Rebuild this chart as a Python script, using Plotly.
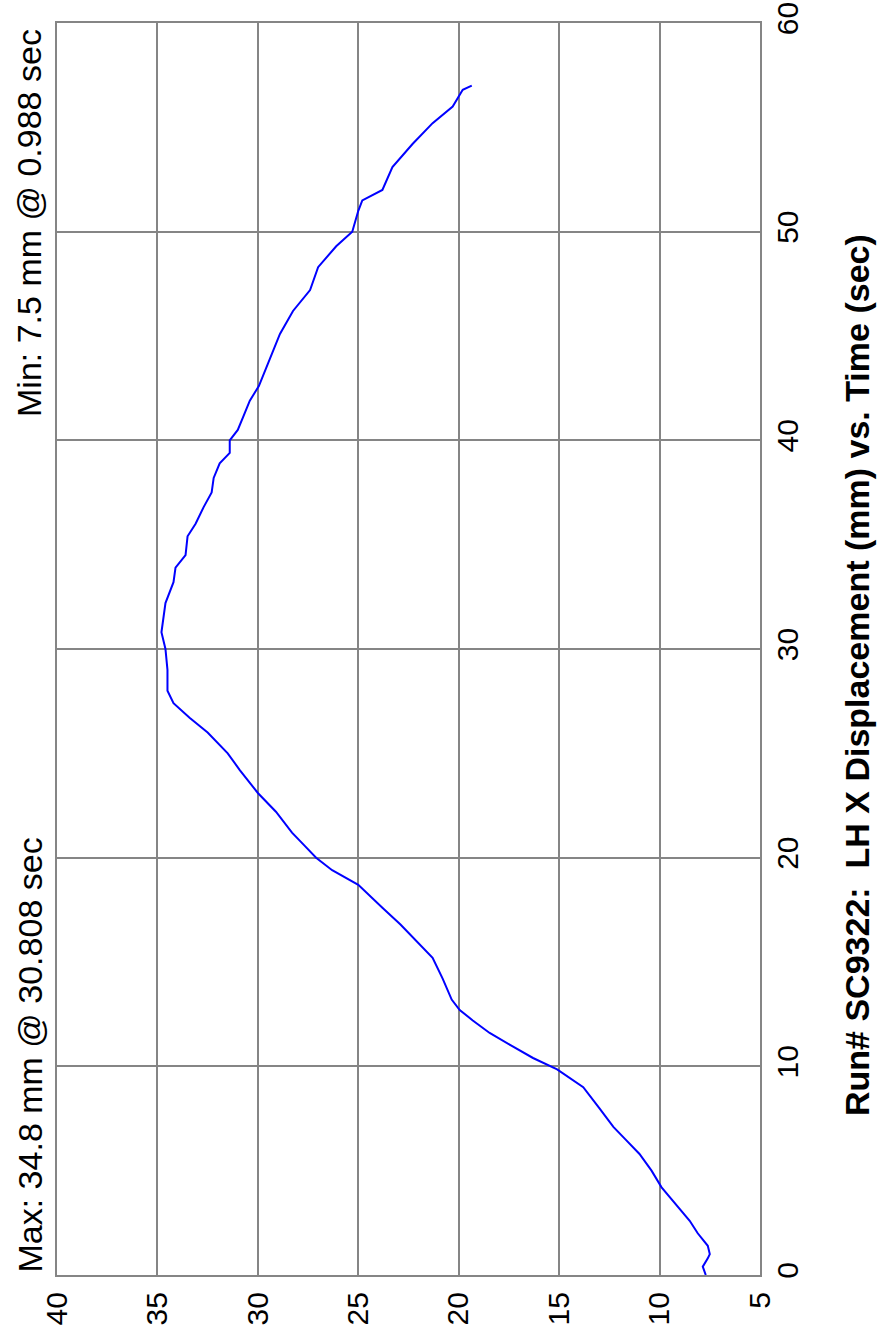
import plotly.graph_objects as go

# Time (sec) and LH X displacement (mm)
time_sec = [0, 0.4, 0.8, 1.0, 1.4, 2.0, 2.6, 3.4, 4.2, 5.0, 5.8, 6.5, 7.1, 8.0, 9.0,
            9.85, 10.4, 11.0, 11.6, 12.2, 12.7, 13.2, 14.2, 15.2, 16.0, 16.8, 17.6,
            18.7, 19.4, 20.0, 20.6, 21.2, 22.2, 23.1, 24.2, 25.0, 26.0, 26.7, 27.4,
            28.0, 29.0, 30.0, 30.8, 31.5, 32.2, 33.2, 33.9, 34.5, 35.4, 36.0, 36.8,
            37.5, 38.2, 38.9, 39.4, 40.0, 40.5, 41.2, 41.9, 42.6, 43.9, 45.1, 46.2,
            47.2, 48.3, 49.3, 50.0, 51.0, 51.5, 52.0, 53.1, 54.2, 55.2, 56.0, 56.8, 57.0]
disp_mm = [7.7, 7.85, 7.6, 7.5, 7.6, 8.1, 8.5, 9.2, 9.9, 10.4, 11.0, 11.7, 12.3, 13.0, 13.8,
           15.1, 16.3, 17.4, 18.46, 19.3, 19.95, 20.35, 20.8, 21.3, 22.1, 22.9, 23.8,
           25.0, 26.3, 27.1, 27.7, 28.3, 29.1, 30.0, 30.9, 31.5, 32.5, 33.4, 34.2,
           34.5, 34.5, 34.6, 34.8, 34.7, 34.6, 34.2, 34.1, 33.6, 33.5, 33.1, 32.7,
           32.3, 32.2, 31.9, 31.4, 31.4, 31.0, 30.7, 30.4, 29.95, 29.4, 28.9, 28.25,
           27.4, 27.0, 26.1, 25.3, 25.0, 24.8, 23.8, 23.3, 22.3, 21.3, 20.3, 19.8, 19.35]

disp_ticks = [40, 35, 30, 25, 20, 15, 10, 5]
time_ticks = [0, 10, 20, 30, 40, 50, 60]

title_text = "Run# SC9322:&nbsp; LH X Displacement (mm) vs. Time (sec)"
max_text = "Max: 34.8 mm @ 30.808 sec"
min_text = "Min: 7.5 mm @ 0.988 sec"

FONT = "Liberation Sans, Arial, sans-serif"
GRID = "#858585"

fig = go.Figure()
fig.add_trace(go.Scatter(x=disp_mm, y=time_sec, mode="lines",
                         line=dict(color="#0000ff", width=2), showlegend=False))

fig.update_layout(
    width=881, height=1332,
    margin=dict(l=57, r=121, t=23, b=57, autoexpand=False),
    paper_bgcolor="white", plot_bgcolor="white",
    font=dict(family=FONT, color="black"),
    xaxis=dict(range=[40, 5], tickvals=disp_ticks, ticktext=[str(v) for v in disp_ticks],
               tickangle=-90, side="bottom", showgrid=True, gridcolor=GRID, gridwidth=2,
               showline=True, linecolor=GRID, linewidth=2, mirror=True,
               zeroline=False, ticks="", ticklabelstandoff=3,
               tickfont=dict(size=30, family=FONT, color="black"), automargin=False),
    yaxis=dict(range=[0, 60], tickvals=time_ticks, ticktext=[str(v) for v in time_ticks],
               tickangle=-90, side="right", showgrid=True, gridcolor=GRID, gridwidth=2,
               showline=True, linecolor=GRID, linewidth=2, mirror=True,
               zeroline=False, ticks="", ticklabelstandoff=0,
               tickfont=dict(size=30, family=FONT, color="black"), automargin=False),
    annotations=[
        dict(text=max_text, xref="paper", yref="paper", x=(29 - 57) / 703, y=0,
             xanchor="center", yanchor="bottom", textangle=-90, showarrow=False,
             font=dict(size=34, family=FONT, color="black")),
        dict(text=min_text, xref="paper", yref="paper", x=(29 - 57) / 703,
             y=(1275 - 27) / 1252, xanchor="center", yanchor="top", textangle=-90,
             showarrow=False, font=dict(size=34, family=FONT, color="black")),
        dict(text="<b>" + title_text + "</b>", xref="paper", yref="paper",
             x=(857 - 57) / 703, y=(1275 - 675) / 1252, xanchor="center",
             yanchor="middle", textangle=-90, showarrow=False,
             font=dict(size=34, family=FONT, color="black")),
    ],
)

fig.write_html("out.html", config={"displayModeBar": False},
               post_script="document.body.style.margin='0';document.body.style.padding='0';")
